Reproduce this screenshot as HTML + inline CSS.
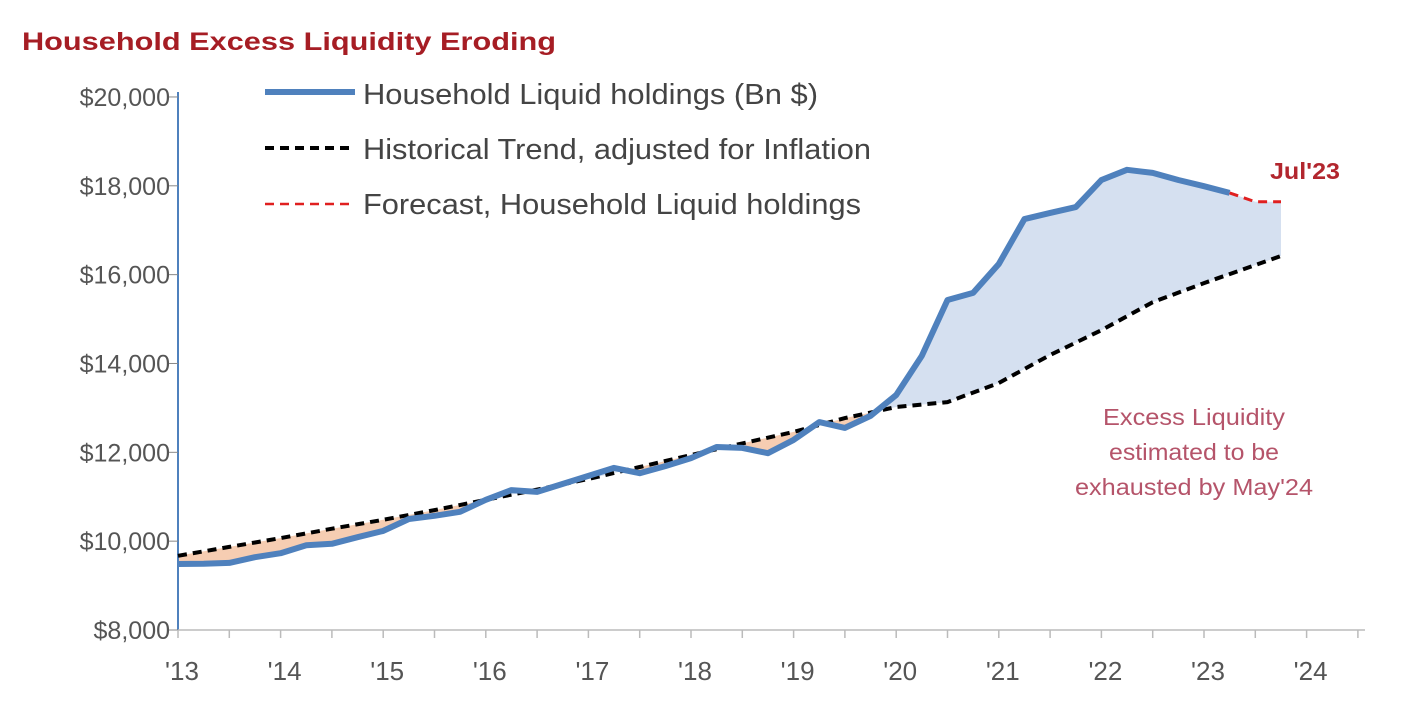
<!DOCTYPE html>
<html><head><meta charset="utf-8"><style>
html,body{margin:0;padding:0;background:#fff;}
svg{display:block;font-family:"Liberation Sans",Arial,sans-serif;}
</style></head><body>
<svg id="chart" width="1402" height="718" viewBox="0 0 1402 718">
<defs>
<clipPath id="underBlue"><path id="cpUnder" d=""/></clipPath>
<clipPath id="aboveBlue"><path id="cpAbove" d=""/></clipPath>
</defs>
<text x="22" y="50" font-size="25" font-weight="bold" fill="#a61d24" textLength="534" lengthAdjust="spacingAndGlyphs">Household Excess Liquidity Eroding</text>
<g id="fills"></g>
<g id="axes"></g>
<g id="series"></g>
<g>
<line x1="265" y1="92" x2="355" y2="92" stroke="#4f81bd" stroke-width="6"/>
<text x="363" y="104" font-size="29" fill="#444" textLength="455" lengthAdjust="spacingAndGlyphs">Household Liquid holdings (Bn $)</text>
<line x1="265" y1="148" x2="355" y2="148" stroke="#000" stroke-width="4" stroke-dasharray="9,6"/>
<text x="363" y="159" font-size="29" fill="#444" textLength="508" lengthAdjust="spacingAndGlyphs">Historical Trend, adjusted for Inflation</text>
<line x1="265" y1="204" x2="355" y2="204" stroke="#e02020" stroke-width="2.5" stroke-dasharray="9,6"/>
<text x="363" y="214" font-size="29" fill="#444" textLength="498" lengthAdjust="spacingAndGlyphs">Forecast, Household Liquid holdings</text>
</g>
<text x="1270" y="179" font-size="23" font-weight="bold" fill="#b2262e" textLength="70" lengthAdjust="spacingAndGlyphs">Jul'23</text>
<g font-size="23" fill="#b5546a" text-anchor="middle">
<text x="1194" y="425" textLength="182" lengthAdjust="spacingAndGlyphs">Excess Liquidity</text>
<text x="1194" y="460" textLength="170" lengthAdjust="spacingAndGlyphs">estimated to be</text>
<text x="1194" y="495" textLength="238" lengthAdjust="spacingAndGlyphs">exhausted by May'24</text>
</g>
</svg>
<script>
const yTicks=[8000,10000,12000,14000,16000,18000,20000];
const xYears=[2013,2014,2015,2016,2017,2018,2019,2020,2021,2022,2023,2024];
const xLabels=["'13","'14","'15","'16","'17","'18","'19","'20","'21","'22","'23","'24"];
const holdT=[2013,2013.25,2013.5,2013.75,2014,2014.25,2014.5,2014.75,2015,2015.25,2015.5,2015.75,2016,2016.25,2016.5,2016.75,2017,2017.25,2017.5,2017.75,2018,2018.25,2018.5,2018.75,2019,2019.25,2019.5,2019.75,2020,2020.25,2020.5,2020.75,2021,2021.25,2021.5,2021.75,2022,2022.25,2022.5,2022.75,2023,2023.25];
const holdV=[9486,9490,9510,9640,9730,9910,9940,10090,10230,10500,10570,10660,10930,11150,11110,11290,11470,11650,11530,11690,11870,12120,12100,11980,12280,12680,12550,12820,13290,14170,15430,15590,16240,17250,17390,17520,18130,18360,18290,18130,17990,17840];
const fcT=[2023.25,2023.5,2023.75];
const fcV=[17840,17640,17640];
const trT=[2013,2013.5,2014,2014.5,2015,2015.5,2016,2016.5,2017,2017.5,2018,2018.5,2019,2019.5,2020,2020.5,2021,2021.5,2022,2022.5,2023,2023.75];
const trV=[9670,9870,10070,10280,10480,10700,10930,11160,11400,11670,11940,12200,12460,12770,13020,13130,13560,14190,14750,15380,15810,16420];

const NS="http://www.w3.org/2000/svg";
const X=t=>178+(t-2013)*102.6;
const Y=v=>630-(v-8000)*0.04442;
function mk(tag,attrs,parent){const e=document.createElementNS(NS,tag);for(const k in attrs)e.setAttribute(k,attrs[k]);parent.appendChild(e);return e;}
const pts=(ts,vs)=>ts.map((t,i)=>X(t).toFixed(1)+","+Y(vs[i]).toFixed(1));
const axes=document.getElementById('axes'),series=document.getElementById('series'),fills=document.getElementById('fills');

const allT=holdT.concat(fcT.slice(1)),allV=holdV.concat(fcV.slice(1));
const bp=pts(allT,allV),tp=pts(trT,trV);
const x0=X(2013),x1=X(2023.75);
document.getElementById('cpUnder').setAttribute('d',"M"+bp.join(" L")+` L${x1},700 L${x0},700 Z`);
document.getElementById('cpAbove').setAttribute('d',"M"+bp.join(" L")+` L${x1},0 L${x0},0 Z`);
const blueFill=mk('path',{d:"M"+tp.join(" L")+` L${x1},0 L${x0},0 Z`,fill:"#d5e0f0","clip-path":"url(#underBlue)"},fills);


const orFill=mk('path',{d:"M"+tp.join(" L")+` L${x1},700 L${x0},700 Z`,fill:"#f6cdb2","clip-path":"url(#aboveBlue)"},fills);



const ya=mk('line',{x1:178,y1:92,x2:178,y2:630,stroke:"#4f81bd","stroke-width":2},axes);


const xa=mk('line',{x1:178,y1:630,x2:1365,y2:630,stroke:"#bbb","stroke-width":1.5},axes);


yTicks.forEach(v=>{
  mk('line',{x1:168,y1:Y(v),x2:178,y2:Y(v),stroke:"#888","stroke-width":1},axes);
  const t=mk('text',{x:170,y:Y(v)+9,"font-size":25,fill:"#555","text-anchor":"end"},axes);
  t.textContent="$"+v.toLocaleString('en-US');
  
  
});
for(let t=2013;t<=2024.5;t+=0.5){mk('line',{x1:X(t),y1:630,x2:X(t),y2:638,stroke:"#bbb","stroke-width":1.5},axes);}
xYears.forEach((yr,i)=>{
  const t=mk('text',{x:X(yr)+4,y:680,"font-size":26,fill:"#555","text-anchor":"middle"},axes);
  t.textContent=xLabels[i];
  
  
});

const tl=mk('polyline',{points:tp.join(" "),fill:"none",stroke:"#000","stroke-width":4,"stroke-dasharray":"9,6"},series);


const bl=mk('polyline',{points:pts(holdT,holdV).join(" "),fill:"none",stroke:"#4f81bd","stroke-width":6,"stroke-linejoin":"round"},series);


const fl=mk('polyline',{points:pts(fcT,fcV).join(" "),fill:"none",stroke:"#e02020","stroke-width":3,"stroke-dasharray":"9,6"},series);


</script>
</body></html>
